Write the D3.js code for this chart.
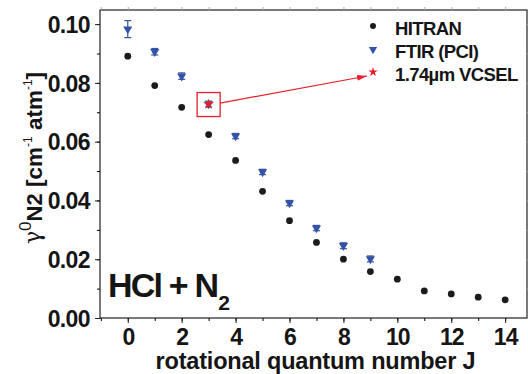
<!DOCTYPE html>
<html>
<head>
<meta charset="utf-8">
<script src="https://cdn.jsdelivr.net/npm/d3@7"></script>
<style>
  body { margin: 0; background: #fff; }
  svg { display: block; font-family: "Liberation Sans", Arial, sans-serif; }
  .tick text { font-weight: bold; fill: #151515; }
</style>
</head>
<body>
<div id="chart"></div>
<script>
// rotational quantum number J
var hitranJ = [0, 1, 2, 3, 4, 5, 6, 7, 8, 9, 10, 11, 12, 13, 14];
var hitranGamma = [0.0891, 0.0791, 0.0717, 0.0624, 0.0536, 0.0431, 0.0331, 0.0257,
                   0.0200, 0.0158, 0.0132, 0.0092, 0.0082, 0.0071, 0.0062];

var ftirJ = [0, 1, 2, 3, 4, 5, 6, 7, 8, 9];
var ftirGamma = [0.0983, 0.0906, 0.0823, 0.0728, 0.0619, 0.0497, 0.0391, 0.0306, 0.0246, 0.0201];
var ftirErr = [0.0029, 0.0011, 0.0011, 0.0010, 0.0009, 0.0009, 0.0009, 0.0009, 0.0010, 0.0010];

var vcselJ = [3];
var vcselGamma = [0.0728];

var xTicks = [0, 2, 4, 6, 8, 10, 12, 14];
var yTicks = [0.00, 0.02, 0.04, 0.06, 0.08, 0.10];

var legendNames = ['HITRAN', 'FTIR (PCI)', '1.74\u00b5m VCSEL'];

var W = 528, H = 374;
var plotL = 100, plotR = 527, plotT = 10, plotB = 318;
var black = '#1b1b1b', blue = '#3553a6', red = '#e5202a', ink = '#151515';

var svg = d3.select('#chart').append('svg')
    .attr('width', W).attr('height', H);

var x = d3.scaleLinear().domain([-1.03, 14.81]).range([plotL, plotR]);
var y = d3.scaleLinear().domain([0, 0.1048]).range([plotB, plotT]);

// frame
svg.append('rect')
    .attr('x', plotL).attr('y', plotT)
    .attr('width', plotR - plotL).attr('height', plotB - plotT)
    .attr('fill', 'none').attr('stroke', '#222').attr('stroke-width', 1.2);

// minor ticks
var xMinor = d3.range(-1, 15, 1);
var yMinor = d3.range(0, 0.105, 0.01);
svg.append('g').attr('transform', 'translate(0,' + plotB + ')')
    .call(d3.axisBottom(x).tickValues(xMinor).tickSize(3).tickFormat(''))
    .call(function (g) { g.select('.domain').remove(); });
svg.append('g').attr('transform', 'translate(' + plotL + ',0)')
    .call(d3.axisLeft(y).tickValues(yMinor).tickSize(3).tickFormat(''))
    .call(function (g) { g.select('.domain').remove(); });
svg.append('g').attr('transform', 'translate(0,' + plotT + ')')
    .call(d3.axisTop(x).tickValues(xMinor).tickSize(3).tickFormat(''))
    .call(function (g) { g.select('.domain').remove(); g.selectAll('line').attr('stroke', '#aaa'); });
svg.append('g').attr('transform', 'translate(' + plotR + ',0)')
    .call(d3.axisRight(y).tickValues(yMinor).tickSize(3).tickFormat(''))
    .call(function (g) { g.select('.domain').remove(); g.selectAll('line').attr('stroke', '#aaa'); });

// major ticks with labels
var xAxis = svg.append('g').attr('transform', 'translate(0,' + plotB + ')')
    .call(d3.axisBottom(x).tickValues(xTicks).tickSize(5).tickPadding(6).tickFormat(d3.format('d')));
xAxis.select('.domain').remove();
xAxis.selectAll('line').attr('stroke', '#222');
xAxis.selectAll('text')
    .attr('font-size', 23).attr('letter-spacing', -1)
    .attr('dy', '0.7em');

var yAxis = svg.append('g').attr('transform', 'translate(' + plotL + ',0)')
    .call(d3.axisLeft(y).tickValues(yTicks).tickSize(5).tickPadding(5).tickFormat(d3.format('.2f')));
yAxis.select('.domain').remove();
yAxis.selectAll('line').attr('stroke', '#222');
yAxis.selectAll('text')
    .attr('font-size', 23).attr('letter-spacing', -0.6)
    .attr('dy', '0.36em');

// axis titles
svg.append('text')
    .attr('x', (x(0) + x(14)) / 2 - 1).attr('y', 369)
    .attr('text-anchor', 'middle')
    .attr('font-size', 23.5).attr('font-weight', 'bold')
    .attr('letter-spacing', -0.2)
    .attr('fill', ink)
    .text('rotational quantum number J');

var yt = svg.append('text')
    .attr('transform', 'translate(42,158) rotate(-90)')
    .attr('text-anchor', 'middle')
    .attr('font-size', 22.5).attr('font-weight', 'bold')
    .attr('fill', ink);
yt.append('tspan').attr('font-family', '"DejaVu Serif", serif').attr('font-weight', 'normal')
    .attr('font-size', 22).attr('dy', -2).text('\u03b3');
yt.append('tspan').attr('font-size', 17).attr('font-weight', 'normal').attr('dy', -9).text('0');
yt.append('tspan').attr('font-size', 22).attr('dy', 11).text('N2');
yt.append('tspan').attr('dy', 0).text(' [cm');
yt.append('tspan').attr('font-size', 12).attr('font-weight', 'normal').attr('dy', -10).text('-1');
yt.append('tspan').attr('dy', 10).text(' atm');
yt.append('tspan').attr('font-size', 12).attr('font-weight', 'normal').attr('dy', -10).text('-1');
yt.append('tspan').attr('dy', 10).text(']');

// HCl + N2 label
var lbl = svg.append('text')
    .attr('x', 108).attr('y', 297)
    .attr('font-size', 34).attr('font-weight', 'bold')
    .attr('letter-spacing', -1.8)
    .attr('fill', ink);
lbl.append('tspan').text('HCl + N');
lbl.append('tspan').attr('font-size', 21).attr('dy', 13).attr('dx', 1).text('2');

// HITRAN points
svg.append('g').selectAll('circle')
    .data(hitranJ)
    .enter().append('circle')
    .attr('cx', function (d) { return x(d); })
    .attr('cy', function (d, i) { return y(hitranGamma[i]); })
    .attr('r', 3.4)
    .attr('fill', black);

// FTIR error bars and triangles
var ftir = svg.append('g');
ftirJ.forEach(function (j, i) {
    var cx = x(j), y0 = y(ftirGamma[i] - ftirErr[i]), y1 = y(ftirGamma[i] + ftirErr[i]);
    ftir.append('line').attr('x1', cx).attr('x2', cx).attr('y1', y0).attr('y2', y1)
        .attr('stroke', blue).attr('stroke-width', 1.2);
    [y0, y1].forEach(function (yy) {
        ftir.append('line').attr('x1', cx - 3.5).attr('x2', cx + 3.5).attr('y1', yy).attr('y2', yy)
            .attr('stroke', blue).attr('stroke-width', 1.2);
    });
});
var triDown = d3.symbol().type(d3.symbolTriangle).size(36);
ftir.selectAll('path.tri')
    .data(ftirJ)
    .enter().append('path')
    .attr('class', 'tri')
    .attr('d', triDown)
    .attr('transform', function (d, i) {
        return 'translate(' + x(d) + ',' + y(ftirGamma[i]) + ') rotate(180)';
    })
    .attr('fill', blue);

// VCSEL star
var star = d3.symbol().type(d3.symbolStar);
svg.append('g').selectAll('path')
    .data(vcselJ)
    .enter().append('path')
    .attr('d', star.size(36))
    .attr('transform', function (d, i) {
        return 'translate(' + x(d) + ',' + y(vcselGamma[i]) + ')';
    })
    .attr('fill', red);

// highlight box around VCSEL point
var bx = x(vcselJ[0]), by = y(vcselGamma[0]);
svg.append('rect')
    .attr('x', bx - 11.5).attr('y', by - 11.5)
    .attr('width', 23).attr('height', 24)
    .attr('fill', 'none').attr('stroke', red).attr('stroke-width', 1.3);

// legend
var legX = 373, legY = [26, 49.5, 72];
var leg = svg.append('g');
leg.append('circle').attr('cx', legX).attr('cy', legY[0]).attr('r', 3).attr('fill', black);
leg.append('path').attr('d', d3.symbol().type(d3.symbolTriangle).size(30))
    .attr('transform', 'translate(' + legX + ',' + legY[1] + ') rotate(180)').attr('fill', blue);
leg.append('path').attr('d', d3.symbol().type(d3.symbolStar).size(28))
    .attr('transform', 'translate(' + legX + ',' + legY[2] + ')').attr('fill', red);
leg.selectAll('text')
    .data(legendNames)
    .enter().append('text')
    .attr('x', 395)
    .attr('y', function (d, i) { return legY[i] + 5; })
    .attr('dy', '0.2em')
    .attr('font-size', 18.5).attr('font-weight', 'bold')
    .attr('letter-spacing', -0.6)
    .attr('fill', ink)
    .text(function (d) { return d; });

// arrow from box to legend star
svg.append('defs').append('marker')
    .attr('id', 'head')
    .attr('viewBox', '0 0 10 6')
    .attr('refX', 10).attr('refY', 3)
    .attr('markerWidth', 10).attr('markerHeight', 6)
    .attr('markerUnits', 'userSpaceOnUse')
    .attr('orient', 'auto')
    .append('path').attr('d', 'M0,0L10,3L0,6Z').attr('fill', red);
svg.append('line')
    .attr('x1', bx + 11.5).attr('y1', by - 1)
    .attr('x2', legX - 6).attr('y2', legY[2] + 4)
    .attr('stroke', red).attr('stroke-width', 1.2)
    .attr('marker-end', 'url(#head)');
</script>
</body>
</html>
